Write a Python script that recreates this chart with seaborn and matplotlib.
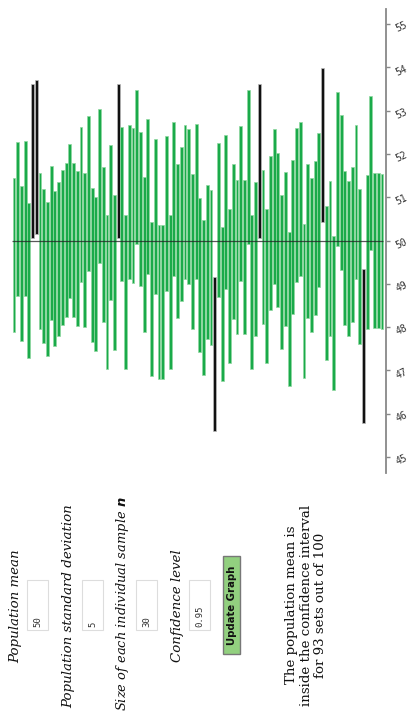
import matplotlib
matplotlib.use("Agg")
import matplotlib.pyplot as plt
import seaborn as sns
import numpy as np
import pandas as pd
from matplotlib.patches import Rectangle

# ---- data: 100 confidence intervals (lower, upper) ----
lower = [47.88, 48.71, 47.69, 48.73, 47.29, 50.06, 50.15, 47.96, 47.63, 47.34,
         48.16, 47.57, 47.79, 48.06, 48.23, 48.67, 48.23, 48.02, 49.04, 48.00,
         49.29, 47.65, 47.44, 49.48, 48.13, 47.04, 48.62, 47.48, 50.06, 49.06,
         47.04, 49.11, 49.02, 49.91, 48.94, 47.89, 49.23, 46.86, 48.77, 46.81,
         46.81, 48.84, 47.04, 49.18, 48.21, 48.60, 49.11, 49.00, 47.96, 49.11,
         47.42, 46.90, 47.73, 47.59, 45.59, 48.70, 46.76, 48.87, 47.17, 48.19,
         47.84, 49.07, 47.84, 49.91, 47.03, 47.79, 50.06, 48.08, 47.17, 48.39,
         49.00, 48.47, 47.50, 48.02, 46.63, 48.30, 49.04, 49.18, 46.82, 48.20,
         47.89, 48.27, 48.93, 50.42, 47.25, 47.80, 46.55, 49.87, 49.33, 48.04,
         47.80, 48.13, 49.11, 47.62, 45.78, 47.96, 49.78, 47.98, 47.98, 47.96]
upper = [51.45, 52.27, 51.26, 52.30, 50.86, 53.62, 53.72, 51.55, 51.20, 50.90,
         51.73, 51.14, 51.36, 51.62, 51.80, 52.24, 51.80, 51.60, 52.62, 51.57,
         52.88, 51.21, 51.01, 53.05, 51.71, 50.60, 52.20, 51.06, 53.62, 52.63,
         50.60, 52.68, 52.60, 53.49, 52.51, 51.46, 52.80, 50.43, 52.34, 50.37,
         50.37, 52.41, 50.60, 52.74, 51.78, 52.16, 52.68, 52.57, 51.53, 52.70,
         50.98, 50.47, 51.29, 51.16, 49.15, 52.26, 50.32, 52.43, 50.73, 51.76,
         51.40, 52.64, 51.40, 53.48, 50.59, 51.35, 53.62, 51.64, 50.73, 51.95,
         52.57, 52.03, 51.06, 51.58, 50.19, 51.86, 52.61, 52.74, 50.39, 51.76,
         51.45, 51.83, 52.49, 53.98, 50.79, 51.37, 50.10, 53.43, 52.89, 51.60,
         51.37, 51.70, 52.68, 51.18, 49.34, 51.51, 53.34, 51.57, 51.57, 51.53]
population_mean = 50
tick_values = [45, 46, 47, 48, 49, 50, 51, 52, 53, 54, 55]

labels = ["Population mean", "Population standard deviation",
          "Size of each individual sample ", "Confidence level"]
input_values = ["50", "5", "30", "0.95"]
button_label = "Update Graph"
inside_count = sum(1 for lo, hi in zip(lower, upper) if lo <= population_mean <= hi)
result_text = ("The population mean is\ninside the confidence interval\n"
               f"for {inside_count} sets out of {len(lower)}")

df = pd.DataFrame({"sample": np.arange(len(lower)), "lower": lower, "upper": upper})
df["height"] = df["upper"] - df["lower"]
df["hit"] = (df["lower"] <= population_mean) & (df["upper"] >= population_mean)

sns.set_theme(style="white")
plt.rcParams["font.family"] = ["DejaVu Sans"]

W, H = 411, 720
fig = plt.figure(figsize=(W / 100, H / 100), dpi=100)
fig.patch.set_facecolor("white")

ax = fig.add_axes([12 / W, (H - 473) / H, 374 / W, 464 / H])
ax.set_facecolor("white")
green = "#1aaa4a"
cols = [green if h else "#111111" for h in df["hit"]]
edges = ["#8fd8a0" if h else "#bbbbbb" for h in df["hit"]]
ax.bar(df["sample"], df["height"], bottom=df["lower"], width=0.77,
       color=cols, edgecolor=edges, linewidth=0.5, zorder=2)
ax.hlines(population_mean, -0.5, len(lower) - 0.6, color="#222222", lw=0.9,
          alpha=0.75, zorder=3)

ax.set_xlim(-0.55, len(lower) + 0.08)
ax.set_ylim(44.63, 55.35)
ax.set_xticks([])
ax.yaxis.tick_right()
ax.set_yticks(tick_values)
ax.set_yticklabels([str(t) for t in tick_values], rotation=25, fontsize=7,
                   color="#333333", family="DejaVu Sans Mono")
ax.tick_params(axis="y", direction="out", length=3, width=1, color="#888888",
               pad=3, right=True, left=False)
for s in ["left", "top", "bottom"]:
    ax.spines[s].set_visible(False)
ax.spines["right"].set_color("#888888")
ax.spines["right"].set_linewidth(1.3)

# ---- control panel (rotated page) ----
ov = fig.add_axes([0, 0, 1, 1], zorder=5)
ov.set_xlim(0, W)
ov.set_ylim(H, 0)
ov.axis("off")
ov.patch.set_alpha(0)

yc = 606
label_x = [16, 69, 122, 177]
box_x = [27, 82, 136, 189]
for i, (lab, val) in enumerate(zip(labels, input_values)):
    if i == 2:
        ov.text(label_x[i], yc - 2, lab + r"$\boldsymbol{n}$", rotation=90, ha="center",
                va="center", fontsize=9.4, style="italic", family="DejaVu Serif",
                color="#111111")
    else:
        ov.text(label_x[i], yc, lab, rotation=90, ha="center", va="center",
                fontsize=9.6, style="italic", family="DejaVu Serif", color="#111111")
    ov.add_patch(Rectangle((box_x[i], 580), 21, 50, facecolor="white",
                           edgecolor="#dddddd", lw=0.8))
    ov.text(box_x[i] + 11, 627, val, rotation=90, ha="center", va="bottom",
            fontsize=6.5, family="DejaVu Sans Mono", color="#333333")

ov.add_patch(Rectangle((223, 556), 17, 98, facecolor="#92d07f",
                       edgecolor="#777777", lw=1))
ov.text(231.5, 605, button_label, rotation=90, ha="center", va="center",
        fontsize=7.3, fontweight="bold", color="#111111")

ov.text(306, 605, result_text, rotation=90, ha="center", va="center",
        multialignment="center", fontsize=9.6, family="DejaVu Serif",
        color="#111111", linespacing=1.15)

fig.savefig("out.png", dpi=100, facecolor="white")
